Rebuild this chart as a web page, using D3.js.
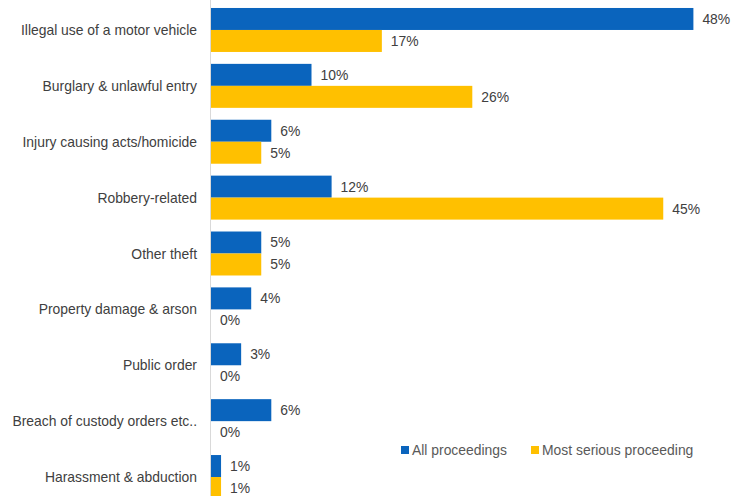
<!DOCTYPE html>
<html>
<head>
<meta charset="utf-8">
<script src="https://cdn.jsdelivr.net/npm/d3@7"></script>
<style>
  html, body { margin: 0; padding: 0; background: #ffffff; }
  svg { display: block; }
  text { font-family: "Liberation Sans", Arial, sans-serif; }
</style>
</head>
<body>
<svg id="chart" width="737" height="496"></svg>
<script>
// Offence categories, top to bottom
const categories = [
  "Illegal use of a motor vehicle",
  "Burglary & unlawful entry",
  "Injury causing acts/homicide",
  "Robbery-related",
  "Other theft",
  "Property damage & arson",
  "Public order",
  "Breach of custody orders etc..",
  "Harassment & abduction"
];

// Share of proceedings (%)
const allProceedings      = [48, 10, 6, 12, 5, 4, 3, 6, 1];
const mostSerious         = [17, 26, 5, 45, 5, 0, 0, 0, 1];

const seriesNames  = ["All proceedings", "Most serious proceeding"];
const seriesColors = ["#0a64bd", "#ffc000"];

const width = 737, height = 496;
const fontSize = 13.9;
const svg = d3.select("#chart");

// Group scale: one band per category
const y = d3.scaleBand()
  .domain(categories)
  .range([2, 505])
  .paddingInner(0.213)
  .paddingOuter(0.107);

// Inner scale: two bars per category
const ySub = d3.scaleBand()
  .domain(seriesNames)
  .range([0, y.bandwidth()]);

const x = d3.scaleLinear()
  .domain([0, 50])
  .range([211, 713.5]);

const rows = categories.map((c, i) => ({
  category: c,
  values: [
    { series: seriesNames[0], value: allProceedings[i] },
    { series: seriesNames[1], value: mostSerious[i] }
  ]
}));

// Vertical category axis line
svg.append("line")
  .attr("x1", x(0) - 0.5).attr("x2", x(0) - 0.5)
  .attr("y1", 0).attr("y2", height)
  .attr("stroke", "#d9d9d9")
  .attr("stroke-width", 1);

const groups = svg.append("g").selectAll("g")
  .data(rows)
  .join("g")
  .attr("transform", d => `translate(0,${y(d.category)})`);

groups.selectAll("rect")
  .data(d => d.values)
  .join("rect")
  .attr("x", x(0))
  .attr("y", d => ySub(d.series))
  .attr("width", d => x(d.value) - x(0))
  .attr("height", ySub.bandwidth())
  .attr("fill", (d, i) => seriesColors[i]);

// Value labels at bar ends
groups.selectAll("text.value")
  .data(d => d.values)
  .join("text")
  .attr("class", "value")
  .attr("x", d => x(d.value) + 9)
  .attr("y", d => ySub(d.series) + ySub.bandwidth() / 2)
  .attr("dy", "0.36em")
  .attr("font-size", fontSize)
  .attr("fill", "#404040")
  .text(d => d.value + "%");

// Category labels
svg.append("g").selectAll("text")
  .data(categories)
  .join("text")
  .attr("x", 197)
  .attr("y", d => y(d) + y.bandwidth() / 2)
  .attr("dy", "0.36em")
  .attr("text-anchor", "end")
  .attr("font-size", fontSize)
  .attr("fill", "#404040")
  .text(d => d);

// Legend
const legendX = [401, 531];
const legend = svg.append("g").selectAll("g")
  .data(seriesNames)
  .join("g")
  .attr("transform", (d, i) => `translate(${legendX[i]},450)`);

legend.append("rect")
  .attr("x", 0).attr("y", -4)
  .attr("width", 8).attr("height", 8)
  .attr("fill", (d, i) => seriesColors[i]);

legend.append("text")
  .attr("x", 11)
  .attr("y", 0)
  .attr("dy", "0.36em")
  .attr("font-size", fontSize)
  .attr("fill", "#595959")
  .text(d => d);
</script>
</body>
</html>
